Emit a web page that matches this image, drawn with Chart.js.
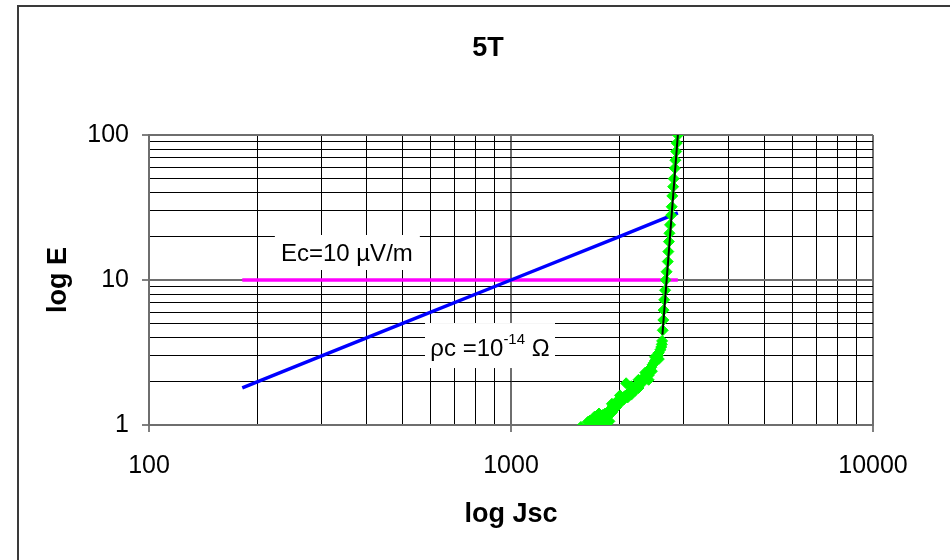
<!DOCTYPE html>
<html>
<head>
<meta charset="utf-8">
<script src="https://cdn.jsdelivr.net/npm/chart.js@4"></script>
<style>
  html, body { margin: 0; padding: 0; background: #fff; }
  #wrap { width: 950px; height: 560px; }
</style>
</head>
<body>
<div id="wrap"><canvas id="c" width="950" height="560"></canvas></div>
<script>
// tick values (log grid) and the ones that get a label
const xTicks = [100, 200, 300, 400, 500, 600, 700, 800, 900,
                1000, 2000, 3000, 4000, 5000, 6000, 7000, 8000, 9000, 10000];
const yTicks = [1, 2, 3, 4, 5, 6, 7, 8, 9, 10, 20, 30, 40, 50, 60, 70, 80, 90, 100];
const xLabeled = [100, 1000, 10000];
const yLabeled = [1, 10, 100];

// rho_c = 1e-14 Ohm line
const rhoLine = [[181, 1.8], [300, 3.0], [500, 5.0], [1000, 10], [2000, 20], [2890, 29]];
// Ec = 10 uV/m criterion
const ecLine = [[181, 10], [2890, 10]];
// measured E(J), upper branch
const measUpper = [
  [2890, 100], [2870, 88], [2860, 77], [2845, 67], [2835, 59], [2815, 50], [2805, 44],
  [2790, 38], [2780, 32], [2770, 28], [2750, 24], [2740, 21], [2730, 18.4], [2720, 15.7],
  [2710, 13.4], [2690, 11.4], [2675, 10], [2665, 8.5], [2650, 7.3], [2640, 6.2],
  [2635, 5.3], [2625, 4.5], [2615, 3.8]
];
// measured E(J), foot of the curve
const measLower = [
  [2610, 3.6], [2600, 3.45], [2585, 3.3], [2560, 3.15], [2545, 3.0], [2520, 2.9],
  [2500, 2.78], [2480, 2.68], [2460, 2.6], [2440, 2.5], [2420, 2.42], [2395, 2.33],
  [2370, 2.25], [2345, 2.18], [2320, 2.1], [2290, 2.04], [2260, 1.97], [2230, 1.88],
  [2200, 1.8], [2170, 1.74], [2140, 1.7], [2100, 1.64], [2080, 1.94], [2060, 1.58],
  [2030, 1.52], [2000, 1.48], [1970, 1.46], [1940, 1.42], [1910, 1.35], [1880, 1.28],
  [1850, 1.22], [1820, 1.2], [1790, 1.17], [1760, 1.13], [1740, 1.1], [1710, 1.09],
  [1680, 1.08], [1650, 1.07], [1630, 1.05], [1800, 1.03], [1840, 1.02], [1870, 1.06],
  [2400, 2.2], [2300, 1.95], [2200, 1.72], [2150, 1.62], [2050, 1.5], [1950, 1.32],
  [1900, 1.22], [1780, 1.08], [1720, 1.04],
  [2500, 2.95], [2450, 2.35], [2350, 2.3], [2250, 2.05], [2250, 1.8], [2150, 1.85],
  [2100, 1.55], [2000, 1.6], [1980, 1.38], [1900, 1.4], [1850, 1.15], [1700, 1.14],
  [1750, 1.2], [2560, 2.85], [2400, 2.05],
  [1560, 0.97], [1650, 0.98], [1720, 0.96], [1800, 0.97]
];
// power-law fit through the upper branch
const fitLine = [[2620, 4.2], [2890, 100]];

const FONT = '"Liberation Sans", Arial, sans-serif';
const toXY = (arr) => arr.map(([x, y]) => ({ x, y }));

const decor = {
  id: 'decor',
  beforeDraw(chart) {
    const c = chart.ctx;
    c.save();
    c.fillStyle = '#fff';
    c.fillRect(0, 0, chart.width, chart.height);
    c.restore();
  },
  beforeDatasetsDraw(chart) {
    const c = chart.ctx;
    const { x, y } = chart.scales;
    c.save();
    c.fillStyle = '#000';
    c.textBaseline = 'alphabetic';

    // Ec label
    let cx = x.getPixelForValue(352), cy = y.getPixelForValue(15.6);
    c.fillStyle = '#fff';
    c.fillRect(cx - 72, cy - 17, 145, 35);
    c.fillStyle = '#000';
    c.font = '24px ' + FONT;
    c.textAlign = 'center';
    c.fillText('Ec=10 µV/m', cx, cy + 9);

    // rho_c label
    cx = x.getPixelForValue(875); cy = y.getPixelForValue(3.56);
    c.fillStyle = '#fff';
    c.fillRect(cx - 65, cy - 22, 130, 45);
    c.fillStyle = '#000';
    c.textAlign = 'left';
    const main = '24px ' + FONT, sup = '15px ' + FONT;
    c.font = main; const w1 = c.measureText('ρc =10').width;
    c.font = sup;  const w2 = c.measureText('-14').width;
    c.font = main; const w3 = c.measureText(' Ω').width;
    let tx = cx - (w1 + w2 + w3) / 2;
    const base = cy + 11;
    c.font = main; c.fillText('ρc =10', tx, base); tx += w1;
    c.font = sup;  c.fillText('-14', tx, base - 12); tx += w2;
    c.font = main; c.fillText(' Ω', tx, base);
    c.restore();
  },
  afterDraw(chart) {
    const c = chart.ctx;
    c.save();
    c.strokeStyle = '#3a3a3a';
    c.lineWidth = 2;
    c.strokeRect(18, 6, 2000, 2000);
    c.fillStyle = '#000';
    c.font = 'bold 27px ' + FONT;
    c.textAlign = 'center';
    c.textBaseline = 'middle';
    c.fillText('5T', 488, 49);
    c.restore();
  }
};

const gridColor = (labeled) => (ctx) =>
  ctx.tick && labeled.includes(ctx.tick.value) ? '#6e6e6e' : '#000';
const gridWidth = (labeled) => (ctx) =>
  ctx.tick && labeled.includes(ctx.tick.value) ? 2 : 1;
const tickCol = (labeled) => (ctx) =>
  ctx.tick && labeled.includes(ctx.tick.value) ? '#000' : 'rgba(0,0,0,0)';

new Chart(document.getElementById('c'), {
  type: 'scatter',
  data: {
    datasets: [
      {
        label: 'fit',
        data: toXY(fitLine),
        showLine: true,
        borderColor: '#000',
        borderWidth: 2,
        pointRadius: 0,
        order: 0
      },
      {
        label: 'measured',
        data: toXY(measUpper.concat(measLower)),
        showLine: false,
        pointStyle: 'rectRot',
        pointRadius: 5.5,
        backgroundColor: '#00ff00',
        borderColor: '#00ff00',
        borderWidth: 1,
        order: 1
      },
      {
        label: 'rho_c',
        data: toXY(rhoLine),
        showLine: true,
        borderColor: '#0000ff',
        borderWidth: 3.5,
        pointRadius: 0,
        order: 2
      },
      {
        label: 'Ec',
        data: toXY(ecLine),
        showLine: true,
        borderColor: '#ff00ff',
        borderWidth: 3.5,
        pointRadius: 0,
        order: 3
      }
    ]
  },
  plugins: [decor],
  options: {
    responsive: false,
    animation: false,
    layout: { padding: { left: 0, right: 77, top: 135, bottom: 0 } },
    plugins: {
      legend: { display: false },
      tooltip: { enabled: false },
      title: { display: false }
    },
    scales: {
      x: {
        type: 'logarithmic',
        min: 100,
        max: 10000,
        afterBuildTicks: (s) => { s.ticks = xTicks.map((v) => ({ value: v })); },
        afterFit: (s) => { s.height = 135; },
        ticks: {
          autoSkip: false,
          maxRotation: 0,
          minRotation: 0,
          padding: 19,
          color: '#000',
          font: { family: FONT, size: 25 },
          callback: (v) => (xLabeled.includes(v) ? String(v) : '')
        },
        grid: {
          color: gridColor(xLabeled),
          lineWidth: gridWidth(xLabeled),
          tickColor: tickCol(xLabeled),
          tickWidth: 1,
          tickLength: 7
        },
        border: { color: '#6e6e6e', width: 2 },
        title: {
          display: true,
          text: 'log Jsc',
          color: '#000',
          font: { family: FONT, size: 27, weight: 'bold' },
          padding: { top: 0, bottom: 29 }
        }
      },
      y: {
        type: 'logarithmic',
        min: 1,
        max: 100,
        afterBuildTicks: (s) => { s.ticks = yTicks.map((v) => ({ value: v })); },
        afterFit: (s) => { s.width = 149; },
        ticks: {
          autoSkip: false,
          padding: 13,
          color: '#000',
          font: { family: FONT, size: 25 },
          callback: (v) => (yLabeled.includes(v) ? String(v) : '')
        },
        grid: {
          color: gridColor(yLabeled),
          lineWidth: gridWidth(yLabeled),
          tickColor: tickCol(yLabeled),
          tickWidth: 1,
          tickLength: 7
        },
        border: { color: '#6e6e6e', width: 2 },
        title: {
          display: true,
          text: 'log E',
          color: '#000',
          font: { family: FONT, size: 27, weight: 'bold' },
          padding: { top: 42, bottom: 0 }
        }
      }
    }
  }
});
</script>
</body>
</html>
